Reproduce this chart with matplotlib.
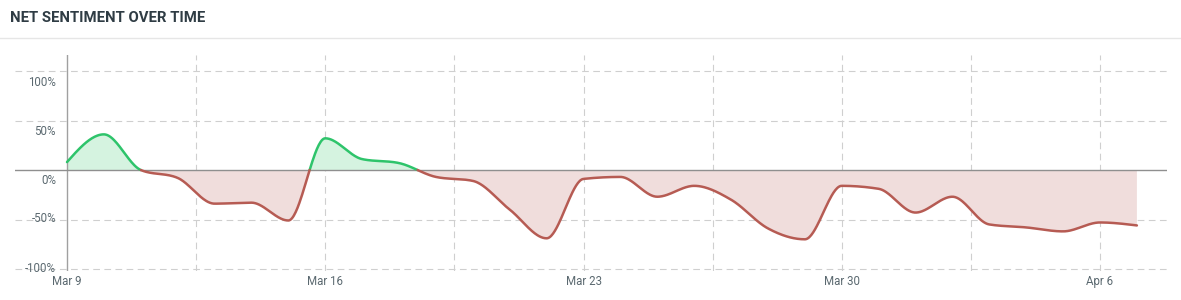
import numpy as np
import matplotlib
matplotlib.use("Agg")
import matplotlib.pyplot as plt
import matplotlib.transforms as mtransforms

# ---- data (daily net sentiment, %) ----
days = list(range(30))  # Mar 9 .. Apr 7
sentiment = [8, 36, 0, -8, -34, -33, -51, 32, 11, 7,
             -7, -11, -40, -69, -9, -7, -27, -16, -30, -59,
             -70, -16, -19, -43, -27, -55, -58, -62, -53, -56]
tick_days = [0, 7, 14, 21, 28]
tick_labels = ["Mar 9", "Mar 16", "Mar 23", "Mar 30", "Apr 6"]
y_ticks = [100, 50, 0, -50, -100]
y_tick_labels = ["100%", "50%", "0%", "-50%", "-100%"]
title = "NET SENTIMENT OVER TIME"

GREEN_LINE = "#2ec46b"
GREEN_FILL = "#d5f3e0"
RED_LINE = "#b65b53"
RED_FILL = "#f0dddc"
GRID = "#cfcfcf"
TEXT = "#5b6970"


def monotone_curve(x, y, n=40):
    """d3 curveMonotoneX-style rendering of a polyline."""
    x = np.asarray(x, float)
    y = np.asarray(y, float)
    h = np.diff(x)
    s = np.diff(y) / h
    m = np.zeros_like(y)
    for i in range(1, len(x) - 1):
        h0, h1 = h[i - 1], h[i]
        s0, s1 = s[i - 1], s[i]
        p = (s0 * h1 + s1 * h0) / (h0 + h1)
        m[i] = (np.sign(s0) + np.sign(s1)) * min(abs(s0), abs(s1), 0.5 * abs(p))
    m[0] = (3 * s[0] - m[1]) / 2
    m[-1] = (3 * s[-1] - m[-2]) / 2
    xs, ys = [], []
    for i in range(len(x) - 1):
        t = np.linspace(0, 1, n, endpoint=False)
        hh = h[i]
        h00 = 2 * t**3 - 3 * t**2 + 1
        h10 = t**3 - 2 * t**2 + t
        h01 = -2 * t**3 + 3 * t**2
        h11 = t**3 - t**2
        xs.append(x[i] + t * hh)
        ys.append(h00 * y[i] + h10 * hh * m[i] + h01 * y[i + 1] + h11 * hh * m[i + 1])
    xs.append([x[-1]])
    ys.append([y[-1]])
    return np.concatenate(xs), np.concatenate(ys)


xs, ys = monotone_curve(days, sentiment)

# insert zero crossings so colour change is exact
X, Y = [xs[0]], [ys[0]]
for i in range(1, len(xs)):
    if ys[i - 1] * ys[i] < 0:
        xc = xs[i - 1] + (0 - ys[i - 1]) * (xs[i] - xs[i - 1]) / (ys[i] - ys[i - 1])
        X.append(xc)
        Y.append(0.0)
    X.append(xs[i])
    Y.append(ys[i])
X = np.array(X)
Y = np.array(Y)

W, H = 1181, 300
fig = plt.figure(figsize=(W / 100, H / 100), dpi=100)
plt.rcParams["font.family"] = ["Roboto", "DejaVu Sans"]

ax_left, ax_right = 15, 1167
ax_top, ax_bottom = 55, 271
ax = fig.add_axes([ax_left / W, 1 - ax_bottom / H, (ax_right - ax_left) / W, (ax_bottom - ax_top) / H])

px_per_day = (1100 - 67) / 28.0
x0 = -(67 - ax_left) / px_per_day
x1 = (ax_right - 67) / px_per_day
ax.set_xlim(x0, x1)
ax.set_ylim(-(ax_bottom - 170) / 0.99, (170 - ax_top) / 0.99)

for sp in ax.spines.values():
    sp.set_visible(False)

# grid
for yv in y_ticks:
    if yv == 0:
        continue
    ax.axhline(yv, color=GRID, lw=0.8, ls=(0, (6, 4)), zorder=1)
for k in range(1, 9):
    ax.axvline(k * 3.5, color=GRID, lw=0.8, ls=(0, (6, 4)), zorder=1)
ax.axvline(0, color="#a0a0a0", lw=1.0, zorder=3)
ax.axhline(0, color="#8f8f8f", lw=1.0, zorder=3)

# fills
ax.fill_between(X, Y, 0, where=Y >= 0, color=GREEN_FILL, lw=0, zorder=2)
ax.fill_between(X, Y, 0, where=Y <= 0, color=RED_FILL, lw=0, zorder=2)

# lines
Yp = np.where(Y >= 0, Y, np.nan)
Yn = np.where(Y <= 0, Y, np.nan)
ax.plot(X, Yp, color=GREEN_LINE, lw=1.8, zorder=4, solid_capstyle="round")
ax.plot(X, Yn, color=RED_LINE, lw=1.8, zorder=4, solid_capstyle="round")

# ticks
ax.set_xticks(tick_days)
ax.set_xticklabels(tick_labels, fontsize=8.3, color=TEXT)
ax.tick_params(axis="x", length=0, pad=3)
ax.set_yticks(y_ticks)
ax.set_yticklabels(y_tick_labels, fontsize=8.3, color=TEXT)
ax.tick_params(axis="y", length=0, pad=0)
# place y labels right-aligned at x=56 px
for yv, lab in zip(y_ticks, ax.get_yticklabels()):
    dy = -9.5 if yv >= 0 else 2.5
    dx = 56 - ax_left
    off = mtransforms.ScaledTranslation(dx / 100, dy / 100, fig.dpi_scale_trans)
    lab.set_transform(lab.get_transform() + off)

# title and separator
fig.text(10 / W, 1 - 18 / H, title, fontsize=10.7, fontweight="bold", color="#2f3c44",
         va="center", ha="left")
fig.add_artist(plt.Line2D([0, 1], [1 - 37.5 / H] * 2, color="#e6e6e6", lw=1,
                          transform=fig.transFigure))

fig.savefig("out.png", dpi=100, facecolor="white")
